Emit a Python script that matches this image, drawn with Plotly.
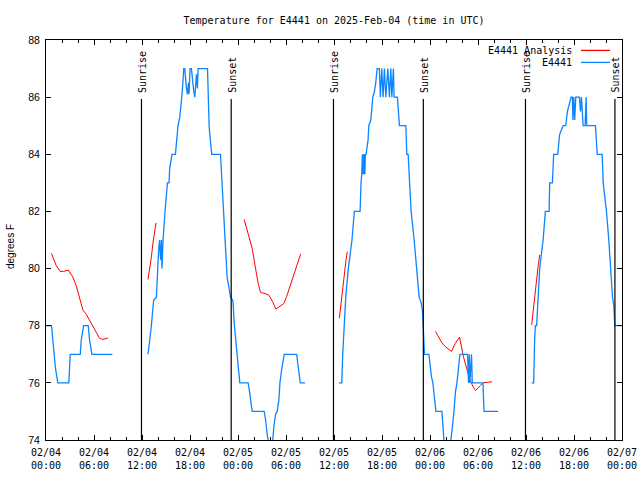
import pandas as pd
import plotly.graph_objects as go

BASE = pd.Timestamp("2025-02-04 00:00")

# ---- Observations (E4441), hours after 2025-02-04 00:00 UTC; None = gap ----
obs_hours = [
    0.0, 0.69, 0.85, 0.98, 1.19, 1.48, 2.85, 3.03, 4.28, 4.41, 4.70, 5.28, 5.45, 5.74, 8.29,
    None,
    12.75, 12.87, 13.05, 13.17, 13.30, 13.46, 13.80, 13.87, 14.00, 14.12, 14.21, 14.30, 14.38,
    14.43, 14.50, 14.63, 14.75, 14.93, 15.18, 15.38, 15.46, 15.63, 15.75, 16.18, 16.30, 16.50,
    16.72, 16.84, 16.97, 17.06, 17.22, 17.34, 17.47, 17.56, 17.68, 17.81, 17.88, 18.01, 18.18,
    18.26, 18.38, 18.47, 18.60, 18.72, 18.81, 18.93, 19.01, 20.19, 20.22, 20.31, 20.39, 20.47,
    20.60, 20.72, 21.81, 21.94, 22.06, 22.14, 22.35, 22.48, 22.64, 22.89, 23.07, 23.32, 23.39,
    23.52, 23.64, 23.82, 24.02, 24.23, 25.27, 25.39, 25.57, 25.77, 27.27, 27.45, 27.65, 27.77,
    28.05, 28.33, 28.49, 28.70, 28.90, 29.11, 29.24, 29.45, 29.65, 29.78, 31.33, 31.46, 31.66,
    31.78, 32.37,
    None,
    36.63, 36.97, 37.09, 37.25, 37.47, 37.79, 38.09, 38.25, 38.54, 39.26, 39.38, 39.47, 39.55,
    39.61, 39.67, 39.73, 39.80, 39.86, 39.92, 40.01, 40.26, 40.35, 40.60, 40.72, 40.85, 41.05,
    41.22, 41.39, 41.67, 41.80, 41.97, 42.14, 42.30, 42.48, 42.73, 42.93, 43.10, 43.23, 43.43,
    43.51, 43.93, 44.18, 44.98, 45.10, 45.27, 45.45, 45.64, 46.02, 46.36, 46.64, 46.90, 47.06,
    47.15, 47.23, 47.31, 47.86, 48.02, 48.19, 48.36, 48.52, 48.74, 49.49, 49.61, 49.74, 50.19,
    50.65, 50.82, 50.99, 51.19, 51.37, 51.57, 51.74, 52.69, 52.82, 52.91, 52.99, 53.19, 53.28,
    54.62, 54.75, 56.50,
    None,
    60.71, 60.96, 61.08, 61.17, 61.33, 61.46, 61.58, 61.71, 61.92, 62.14, 62.42, 62.89, 62.96,
    63.30, 63.46, 63.96, 64.21, 64.64, 64.96, 65.18, 65.64, 65.80, 65.87, 65.97, 66.09, 66.22,
    66.68, 66.81, 66.93, 67.14, 67.39, 67.52, 67.59, 68.68, 68.90, 69.52, 69.65, 70.06, 70.35,
    70.56, 70.81, 70.98, 71.10, 72.0,
]
obs_temp = [
    78, 78, 77.5, 77, 76.5, 76, 76, 77, 77, 77.5, 78, 78, 77.5, 77, 77,
    None,
    77, 77.4, 77.7, 78, 78.4, 78.9, 79, 79.7, 80.2, 80.8, 81, 80.4, 80.3,
    81, 80.0, 81, 81.6, 82.2, 83, 83, 83.5, 83.8, 84, 84, 84.5, 85,
    85.3, 85.8, 86, 86.3, 87, 87, 86.5, 86.3, 86.1, 86.5, 86.1, 87, 87,
    86.7, 86.4, 86.2, 86, 86.4, 86.8, 86.3, 87, 87, 86.5, 85.6, 85, 84.7,
    84.3, 84, 84, 83.3, 82.8, 82.5, 81.2, 80.5, 79.7, 79.3, 79.0, 78.9, 78.8,
    78.1, 77.7, 77.0, 76.6, 76, 76, 75.8, 75.4, 75, 75, 74.7, 74.2, 74,
    73, 74, 74.5, 74.9, 75, 75.4, 76, 76.45, 76.9, 77, 77, 76.7, 76.3,
    76, 76,
    None,
    76, 76, 77, 78, 79, 80, 80.7, 81, 82, 82, 83, 83.3, 84,
    83.3, 84, 83.3, 84, 83.3, 84, 84, 84.5, 85, 85.2, 85.6, 86, 86.2,
    86.5, 87, 87, 86, 87, 86, 87, 86, 87, 86, 87, 86, 87,
    86, 86, 85, 85, 84, 84, 83, 82, 81, 80, 79, 78.8, 78.5,
    78, 77.5, 77, 77, 76.5, 76.2, 76, 75.5, 75, 75, 74.5, 74, 73,
    74, 74.5, 75, 75.7, 76, 76.5, 77, 77, 76, 77, 76, 77, 76,
    76, 75, 75,
    None,
    76, 76, 77.5, 78, 78, 78.8, 79, 80, 80.5, 81, 82, 82, 83,
    83, 84, 84, 84.7, 85, 85, 85.5, 86, 86, 85.2, 86, 85.2, 86,
    86, 85.5, 86, 85, 85, 86, 85, 85, 84, 84, 83, 82, 81,
    80, 79, 78.7, 78, 78,
]

# ---- Analysis (E4441 Analysis) ----
ana_hours = [
    0.69, 1.28, 1.78, 2.19, 2.78, 3.36, 3.78, 4.19, 4.61, 5.03, 5.45, 5.86, 6.29, 6.70, 7.11, 7.74,
    None,
    12.75, 12.96, 13.17, 13.37, 13.59, 13.75,
    None,
    24.77, 25.27, 25.77, 26.23, 26.52, 26.82, 27.36, 27.86, 28.33, 28.74, 29.24, 29.74, 30.08,
    30.49, 30.99, 31.41, 31.83,
    None,
    36.67, 36.84, 37.04, 37.25, 37.50, 37.67,
    None,
    48.69, 49.06, 49.49, 49.90, 50.24, 50.69, 51.15, 51.69, 52.19, 52.62, 52.94, 53.37, 53.70,
    54.28, 54.62, 55.75,
    None,
    60.71, 60.88, 61.08, 61.30, 61.51, 61.71,
]
ana_temp = [
    80.53, 80.1, 79.9, 79.9, 79.95, 79.7, 79.4, 79.0, 78.55, 78.4, 78.2, 78.0, 77.8, 77.56, 77.52, 77.57,
    None,
    79.62, 79.95, 80.4, 80.9, 81.3, 81.6,
    None,
    81.72, 81.23, 80.71, 79.95, 79.48, 79.16, 79.13, 79.07, 78.84, 78.58, 78.69, 78.78, 79.02,
    79.37, 79.83, 80.18, 80.51,
    None,
    78.26, 78.69, 79.13, 79.83, 80.3, 80.59,
    None,
    77.8, 77.6, 77.4, 77.27, 77.2, 77.1, 77.38, 77.6, 76.9, 76.45, 76.15, 75.87, 75.73,
    75.9, 76.0, 76.04,
    None,
    78.03, 78.49, 79.02, 79.6, 80.07, 80.48,
]

sunrise_times = ["2025-02-04 11:56", "2025-02-05 11:56", "2025-02-06 11:56"]
sunset_times = ["2025-02-04 23:09", "2025-02-05 23:10", "2025-02-06 23:07"]

series_names = ["E4441 Analysis", "E4441"]
series_colors = ["#ff0000", "#0a84ff"]

def to_time(hours):
    return [None if h is None else BASE + pd.Timedelta(hours=h) for h in hours]

MONO = "DejaVu Sans Mono"
SANS = "Liberation Sans"

fig = go.Figure()
fig.add_trace(go.Scatter(x=to_time(ana_hours), y=ana_temp, mode="lines",
                         name=series_names[0], line=dict(color=series_colors[0], width=1),
                         connectgaps=False))
fig.add_trace(go.Scatter(x=to_time(obs_hours), y=obs_temp, mode="lines",
                         name=series_names[1], line=dict(color=series_colors[1], width=1.3),
                         connectgaps=False))

# sunrise / sunset markers
for kind, times in (("Sunrise", sunrise_times), ("Sunset", sunset_times)):
    for t in times:
        ts = pd.Timestamp(t)
        fig.add_shape(type="line", xref="x", yref="paper", x0=ts, x1=ts, y0=0, y1=0.8525,
                      line=dict(color="black", width=1.2))
        fig.add_annotation(x=ts, xref="x", y=0.866, yref="paper", text=kind, textangle=-90,
                           showarrow=False, xanchor="center", yanchor="bottom", xshift=1,
                           borderpad=0, font=dict(family=MONO, size=10, color="black"))

# legend (gnuplot style: text then sample on the right)
leg_y = [0.974, 0.944]
for name, col, yy in zip(series_names, series_colors, leg_y):
    fig.add_annotation(x=0.9155, y=yy, xref="paper", yref="paper", text=name,
                       showarrow=False, xanchor="right", yanchor="middle", borderpad=0,
                       font=dict(family=MONO, size=10, color="black"))
    fig.add_shape(type="line", xref="paper", yref="paper", x0=0.9288, x1=0.9792, y0=yy, y1=yy,
                  line=dict(color=col, width=1.3))

# y-axis label
fig.add_annotation(x=-0.0625, y=0.4825, xref="paper", yref="paper", text="degrees F",
                   textangle=-90, showarrow=False, xanchor="center", yanchor="middle",
                   font=dict(family=SANS, size=10, color="black"))

fig.update_layout(
    width=640, height=480,
    margin=dict(l=46, r=18, t=40, b=40, autoexpand=False),
    paper_bgcolor="white", plot_bgcolor="white",
    showlegend=False,
    title=dict(text="Temperature for E4441 on 2025-Feb-04 (time in UTC)",
               x=0.5, xref="paper", xanchor="center", y=1 - 20 / 480, yref="container",
               yanchor="middle", font=dict(family=MONO, size=10, color="black")),
)
fig.update_xaxes(
    range=[BASE, BASE + pd.Timedelta(hours=72)], automargin=False,
    type="date", dtick=6 * 3600 * 1000, tick0=BASE,
    tickformat="%m/%d<br>%H:%M", ticklabelstandoff=3,
    ticks="inside", ticklen=5, tickcolor="black",
    minor=dict(dtick=2 * 3600 * 1000, ticks="inside", ticklen=3, tickcolor="black"),
    showline=True, linecolor="black", linewidth=1, mirror="ticks",
    showgrid=False, zeroline=False,
    tickfont=dict(family=MONO, size=10, color="black"),
)
fig.update_yaxes(
    range=[74, 88], dtick=2, tick0=74, automargin=False, ticklabelstandoff=3,
    ticks="inside", ticklen=5, tickcolor="black",
    showline=True, linecolor="black", linewidth=1, mirror="ticks",
    showgrid=False, zeroline=False,
    tickfont=dict(family=SANS, size=10.5, color="black"),
)

fig.write_html("out.html")
